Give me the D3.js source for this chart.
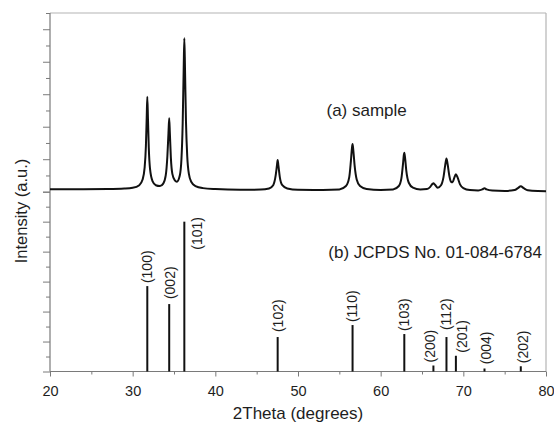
<!DOCTYPE html>
<html>
<head>
<meta charset="utf-8">
<script src="https://cdn.jsdelivr.net/npm/d3@7"></script>
<style>
  html, body { margin: 0; padding: 0; background: #fff; }
  svg { display: block; font-family: "Liberation Sans", Arial, sans-serif; }
</style>
</head>
<body>
<svg id="chart" width="554" height="423"></svg>
<script>
// ---- Data ----
// (a) measured sample pattern: 2-theta (deg) and intensity (arb. units)
const sampleTwoTheta = [20, 24, 27, 29, 30, 30.8, 31.2, 31.45, 31.6, 31.7, 31.77, 31.85, 31.95, 32.1, 32.4, 32.8, 33.3, 33.7, 34.0, 34.2, 34.33, 34.42, 34.5, 34.62, 34.8, 35.1, 35.35, 35.7, 35.9, 36.05, 36.17, 36.25, 36.33, 36.45, 36.6, 36.8, 37.1, 37.6, 38.5, 40, 43, 45.5, 46.5, 47.0, 47.3, 47.45, 47.54, 47.63, 47.8, 48.1, 48.7, 50, 53, 55, 55.8, 56.2, 56.4, 56.53, 56.6, 56.7, 56.85, 57.1, 57.5, 58.3, 60, 61.5, 62.2, 62.5, 62.7, 62.8, 62.86, 62.95, 63.1, 63.4, 63.9, 64.8, 65.6, 66.0, 66.25, 66.38, 66.55, 66.9, 67.3, 67.6, 67.8, 67.96, 68.1, 68.3, 68.5, 68.7, 68.9, 69.1, 69.3, 69.6, 70.0, 70.8, 71.8, 72.3, 72.56, 72.8, 73.5, 75, 76.2, 76.6, 76.95, 77.3, 77.8, 79, 80];
const sampleIntensity = [15, 15, 16, 19, 24, 40, 75, 150, 280, 460, 585, 450, 270, 140, 65, 40, 35, 50, 100, 220, 360, 452, 360, 210, 110, 70, 62, 100, 200, 420, 750, 944, 760, 430, 220, 110, 60, 35, 22, 16, 12, 13, 20, 40, 100, 160, 195, 160, 90, 40, 20, 12, 11, 14, 35, 90, 190, 270, 293, 250, 160, 75, 35, 17, 11, 14, 35, 80, 170, 225, 240, 210, 130, 55, 25, 14, 16, 30, 47, 52, 44, 25, 40, 90, 160, 205, 170, 100, 62, 58, 85, 107, 88, 45, 22, 10, 8, 14, 21, 14, 7, 5, 10, 22, 33, 22, 9, 4, 3];

// (b) JCPDS reference sticks
const refPlanes = ["(100)", "(002)", "(101)", "(102)", "(110)", "(103)", "(200)", "(112)", "(201)", "(004)", "(202)"];
const refTwoTheta = [31.77, 34.42, 36.25, 47.54, 56.60, 62.86, 66.38, 67.96, 69.10, 72.56, 76.95];
const refIntensity = [57, 45, 100, 23, 31, 25, 4, 23, 10.5, 2, 3.5];

// Axis ticks
const xMajorTicks = [20, 30, 40, 50, 60, 70, 80];
const xMinorTicks = [25, 35, 45, 55, 65, 75];
const topTicks = [0, 100, 200, 300, 400, 500, 600, 700, 800, 900, 1000, 1100];
const bottomTicks = [0, 10, 20, 30, 40, 50, 60, 70, 80, 90, 100, 110, 120];

const labels = {
  x: "2Theta (degrees)",
  y: "Intensity (a.u.)",
  a: "(a) sample",
  b: "(b) JCPDS No. 01-084-6784"
};

// ---- Layout ----
const L = 50, R = 546, T = 13, MID = 191.7, B = 371.5;
const svg = d3.select("#chart");

const x = d3.scaleLinear().domain([20, 80]).range([L, R]);
const yTop = d3.scaleLinear().domain([0, 1100]).range([MID, T]);
const yBot = d3.scaleLinear().domain([0, 120]).range([B, MID]);

const axisColor = "#7a7a7a";
const textColor = "#1e1e1e";

// Frame (top and right)
svg.append("line").attr("x1", L).attr("x2", R).attr("y1", T).attr("y2", T)
  .attr("stroke", "#b4b4b4").attr("stroke-width", 1.2);
svg.append("line").attr("x1", R).attr("x2", R).attr("y1", T).attr("y2", B)
  .attr("stroke", "#b4b4b4").attr("stroke-width", 1.2);

// Left axis ticks
function leftTicks(scale, vals, step) {
  const g = svg.append("g").attr("transform", `translate(${L},0)`);
  const major = vals.filter(v => (v / step) % 2 === 0);
  const minor = vals.filter(v => (v / step) % 2 !== 0);
  g.append("g").call(d3.axisLeft(scale).tickValues(major).tickSize(7).tickFormat(""))
    .call(s => s.select(".domain").remove());
  g.append("g").call(d3.axisLeft(scale).tickValues(minor).tickSize(4).tickFormat(""))
    .call(s => s.select(".domain").remove());
  g.selectAll("line").attr("stroke", axisColor).attr("stroke-width", 1);
}
leftTicks(yTop, topTicks, 100);
leftTicks(yBot, bottomTicks, 10);
svg.append("line").attr("x1", L).attr("x2", L).attr("y1", T).attr("y2", B)
  .attr("stroke", axisColor).attr("stroke-width", 1.2);

// Bottom axis
const gx = svg.append("g").attr("transform", `translate(0,${B})`);
gx.append("g").call(d3.axisBottom(x).tickValues(xMajorTicks).tickSize(5).tickPadding(9).tickFormat(d3.format("d")))
  .call(s => s.select(".domain").remove())
  .call(s => s.selectAll("text").attr("font-size", 14.5).attr("fill", textColor)
    .attr("font-family", "'Liberation Sans', Arial, sans-serif"));
gx.append("g").call(d3.axisBottom(x).tickValues(xMinorTicks).tickSize(3).tickFormat(""))
  .call(s => s.select(".domain").remove());
gx.selectAll("line").attr("stroke", axisColor).attr("stroke-width", 1);
svg.append("line").attr("x1", L).attr("x2", R).attr("y1", B).attr("y2", B)
  .attr("stroke", axisColor).attr("stroke-width", 1.2);

// Axis titles
svg.append("text").attr("x", (L + R) / 2).attr("y", 419)
  .attr("text-anchor", "middle").attr("font-size", 17).attr("fill", textColor)
  .text(labels.x);
svg.append("text").attr("transform", `translate(27,211) rotate(-90)`)
  .attr("text-anchor", "middle").attr("font-size", 16.5).attr("fill", textColor)
  .text(labels.y);

// (a) sample curve
const pts = sampleTwoTheta.map((t, i) => [t, sampleIntensity[i]]);
const line = d3.line().x(d => x(d[0])).y(d => yTop(d[1])).curve(d3.curveMonotoneX);
svg.append("path").datum(pts).attr("d", line)
  .attr("fill", "none").attr("stroke", "#111").attr("stroke-width", 2)
  .attr("stroke-linejoin", "round");

svg.append("text").attr("x", 326.5).attr("y", 115.5)
  .attr("font-size", 17).attr("fill", textColor).text(labels.a);

// (b) reference sticks
svg.append("g").selectAll("line").data(refTwoTheta).join("line")
  .attr("x1", d => x(d)).attr("x2", d => x(d))
  .attr("y1", yBot(0)).attr("y2", (d, i) => yBot(refIntensity[i]))
  .attr("stroke", "#111").attr("stroke-width", 2);

// label nudges (pixels) for readability, as in the reference
const nudgeX = { "(101)": 12.5, "(200)": -3, "(201)": 6, "(004)": 1.5, "(202)": 2.3, "(002)": 1 };
const nudgeY = { "(101)": -28, "(112)": 7, "(002)": 5, "(102)": 5, "(004)": 4.3 };
svg.append("g").selectAll("text").data(refPlanes).join("text")
  .attr("transform", (d, i) => {
    const px = x(refTwoTheta[i]) + (nudgeX[d] || 0);
    const py = yBot(refIntensity[i]) - (nudgeY[d] !== undefined ? nudgeY[d] : 3);
    return `translate(${px},${py}) rotate(-90)`;
  })
  .attr("text-anchor", "start").attr("dy", "0.35em")
  .attr("font-size", 14).attr("fill", textColor)
  .text(d => d);

svg.append("text").attr("x", 328.3).attr("y", 258)
  .attr("font-size", 17).attr("fill", textColor).text(labels.b);
</script>
</body>
</html>
